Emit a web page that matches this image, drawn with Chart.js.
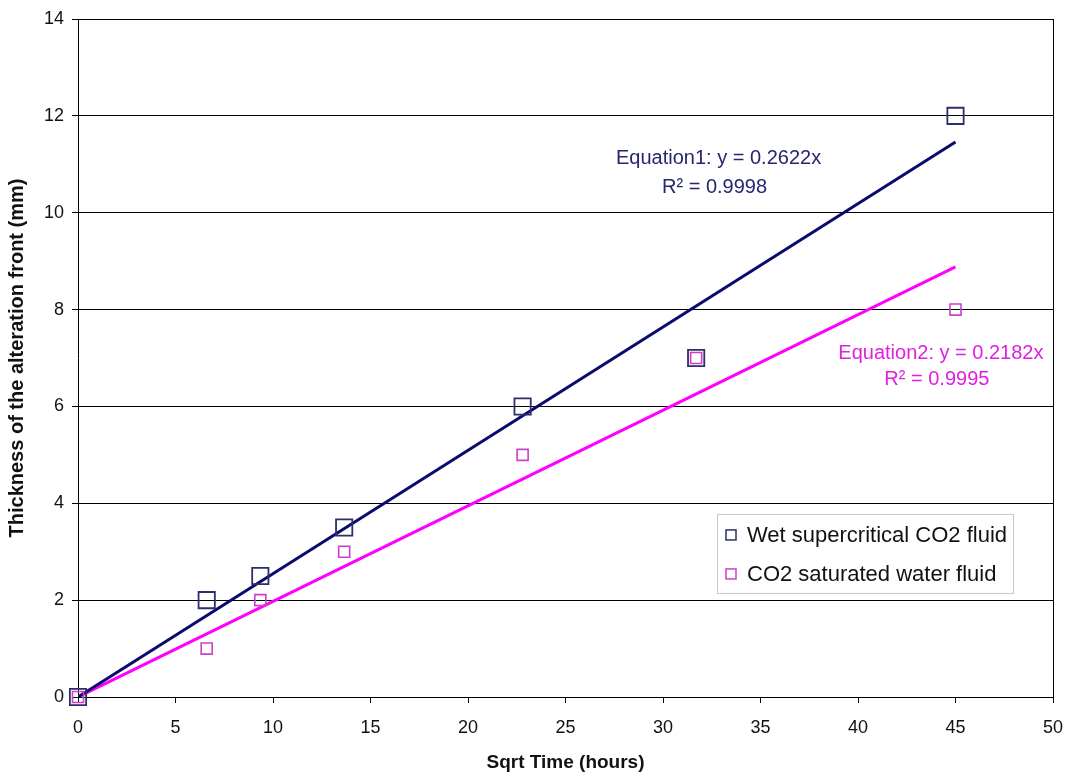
<!DOCTYPE html>
<html>
<head>
<meta charset="utf-8">
<script src="https://cdn.jsdelivr.net/npm/chart.js@4/dist/chart.umd.min.js"></script>
<style>
  html, body { margin: 0; padding: 0; background: #fff; }
  #wrap { width: 1070px; height: 776px; position: relative; }
</style>
</head>
<body>
<div id="wrap"><canvas id="c" width="1070" height="776"></canvas></div>
<script>
// ---- data ----
const sqrtTime = [0, 6.6, 9.35, 13.65, 22.8, 31.7, 45];
const wetSupercritical = [0, 2, 2.5, 3.5, 6, 7, 12];
const co2SaturatedWater = [0, 1, 2, 3, 5, 7, 8];
const trendX = [0, 45];
const trendWet = [0, 11.46];
const trendWater = [0, 8.88];
const seriesNames = ['Wet supercritical CO2 fluid', 'CO2 saturated water fluid'];
const equationTexts = [['Equation1: y = 0.2622x', 'R\u00B2 = 0.9998'], ['Equation2: y = 0.2182x', 'R\u00B2 = 0.9995']];
const xTitle = 'Sqrt Time (hours)';
const yTitle = 'Thickness of the alteration front (mm)';

const NAVY = '#0b0b6e';
const NAVY_MARK = '#2e2e6a';
const MAG = '#ff00ff';
const MAG_MARK = '#cc40cc';
const FONT = '"Liberation Sans", Arial, sans-serif';

const toPts = (xs, ys) => xs.map((x, i) => ({ x: x, y: ys[i] }));

const overlay = {
  id: 'overlay',
  afterDraw(chart) {
    const ctx = chart.ctx;
    const xs = chart.scales.x, ys = chart.scales.y;
    const ca = chart.chartArea;
    ctx.save();
    // equations
    const eq = [
      { x: 32.85, y: 11.13, dy: 29, color: '#26266e', txt: equationTexts[0] },
      { x: 44.25, y: 7.1, dy: 26, color: '#e020e0', txt: equationTexts[1] }
    ];
    ctx.font = '20px ' + FONT;
    ctx.textAlign = 'center';
    ctx.textBaseline = 'middle';
    eq.forEach(e => {
      const px = xs.getPixelForValue(e.x), py = ys.getPixelForValue(e.y);
      ctx.fillStyle = e.color;
      ctx.fillText(e.txt[0], px, py);
      ctx.fillText(e.txt[1], px - 4, py + e.dy);
    });
    // legend box
    const bx = ca.right - 336, by = ys.getPixelForValue(3.78), bw = 296, bh = 79;
    ctx.fillStyle = '#fff';
    ctx.fillRect(bx, by, bw, bh);
    ctx.strokeStyle = '#c8c8c8';
    ctx.lineWidth = 1;
    ctx.strokeRect(bx + 0.5, by + 0.5, bw, bh);
    const items = [
      { name: seriesNames[0], color: NAVY_MARK, lw: 1.5 },
      { name: seriesNames[1], color: MAG_MARK, lw: 1.5 }
    ];
    ctx.font = '22px ' + FONT;
    ctx.textAlign = 'left';
    items.forEach((it, i) => {
      const cy = by + 21 + i * 39;
      ctx.strokeStyle = it.color;
      ctx.lineWidth = it.lw;
      ctx.strokeRect(bx + 9, cy - 5, 10, 10);
      ctx.fillStyle = '#111';
      ctx.fillText(it.name, bx + 30, cy + 1);
    });
    ctx.restore();
  }
};

new Chart(document.getElementById('c'), {
  type: 'scatter',
  data: {
    datasets: [
      {
        label: seriesNames[0],
        data: toPts(sqrtTime, wetSupercritical),
        pointStyle: 'rect',
        pointRadius: 11.5,
        pointBorderWidth: 1.8,
        borderColor: NAVY_MARK,
        backgroundColor: 'transparent',
        showLine: false,
        clip: false
      },
      {
        label: seriesNames[1],
        data: toPts(sqrtTime, co2SaturatedWater),
        pointStyle: 'rect',
        pointRadius: 7.8,
        pointBorderWidth: 1.6,
        borderColor: MAG_MARK,
        backgroundColor: 'transparent',
        showLine: false,
        clip: false
      },
      {
        label: 'trend1',
        data: toPts(trendX, trendWet),
        showLine: true,
        borderColor: NAVY,
        borderWidth: 3,
        pointRadius: 0,
        fill: false
      },
      {
        label: 'trend2',
        data: toPts(trendX, trendWater),
        showLine: true,
        borderColor: MAG,
        borderWidth: 3,
        pointRadius: 0,
        fill: false
      }
    ]
  },
  options: {
    responsive: false,
    animation: false,
    devicePixelRatio: 1,
    layout: { autoPadding: false, padding: { left: 0, right: 17, top: 19, bottom: 0 } },
    plugins: {
      legend: { display: false },
      tooltip: { enabled: false }
    },
    scales: {
      x: {
        type: 'linear',
        min: 0, max: 50,
        ticks: { stepSize: 5, color: '#111', padding: 14, font: { family: FONT, size: 18 } },
        grid: {
          color: (c) => (c.tick && c.tick.value === 50) ? '#000' : 'rgba(0,0,0,0)',
          lineWidth: 1,
          tickColor: '#000',
          tickLength: 6
        },
        border: { color: '#000', width: 1 },
        title: { display: true, text: xTitle, color: '#111', font: { family: FONT, size: 19, weight: 'bold' }, padding: { top: 0, bottom: 2 } },
        afterFit: (s) => { s.height = 79; s.paddingRight = 0; s.paddingLeft = 0; }
      },
      y: {
        type: 'linear',
        min: 0, max: 14,
        ticks: { stepSize: 2, color: '#111', padding: 8, font: { family: FONT, size: 18 } },
        grid: { color: '#000', lineWidth: 1, tickColor: '#000', tickLength: 6 },
        border: { color: '#000', width: 1 },
        title: { display: true, text: yTitle, color: '#111', font: { family: FONT, size: 20, weight: 'bold' }, padding: { top: 5, bottom: 0 } },
        afterFit: (s) => { s.width = 78; s.paddingTop = 0; s.paddingBottom = 0; }
      }
    }
  },
  plugins: [overlay]
});
</script>
</body>
</html>
